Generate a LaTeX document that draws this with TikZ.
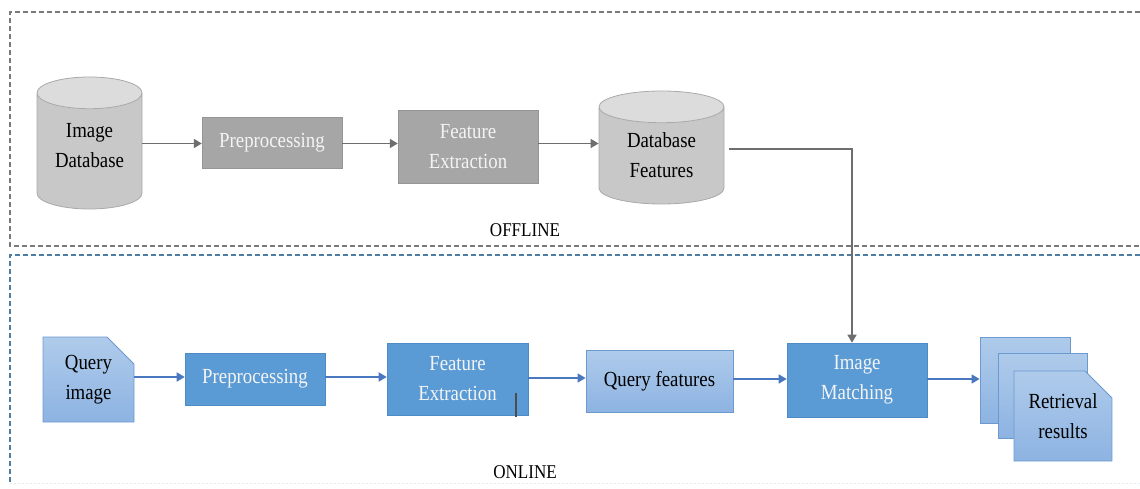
\documentclass[tikz,border=0pt]{standalone}
\usepackage{fontspec}
\newfontfamily\dfont{Liberation Serif}[FakeStretch=0.875]
\usetikzlibrary{shapes.geometric,shapes.misc,arrows.meta}
\definecolor{gbox}{HTML}{A6A6A6}
\definecolor{gcyl}{HTML}{C8C8C8}
\definecolor{gcyltop}{HTML}{DCDCDC}
\definecolor{gcylline}{HTML}{A9A9A9}
\definecolor{garr}{HTML}{6E6E6E}
\definecolor{bbox}{HTML}{5B9BD5}
\definecolor{bboxline}{HTML}{4F8BC4}
\definecolor{lbtop}{HTML}{AFCBEB}
\definecolor{lbbot}{HTML}{8DB3E2}
\definecolor{lbline}{HTML}{6C9AD0}
\definecolor{barr}{HTML}{4A78C0}
\definecolor{offdash}{HTML}{7A7A7A}
\definecolor{ondash}{HTML}{4D7FA6}
\definecolor{txtw}{HTML}{F4F4F4}
\tikzset{
  lbl/.style={font=\dfont\fontsize{21.5}{30}\selectfont, align=center, inner sep=0pt},
  graybox/.style={lbl, rectangle, fill=gbox, draw=gbox!90!black, line width=0.4pt, text=txtw},
  bluebox/.style={lbl, rectangle, fill=bbox, draw=bboxline, line width=0.6pt, text=txtw},
  lightbox/.style={lbl, rectangle, top color=lbtop, bottom color=lbbot, draw=lbline, line width=0.8pt, text=black},
  docbox/.style={lbl, chamfered rectangle, chamfered rectangle corners=north east,
     chamfered rectangle xsep=13pt, chamfered rectangle ysep=14pt,
     top color=lbtop, bottom color=lbbot, draw=lbline, line width=0.8pt, text=black},
  cyl/.style={lbl, cylinder, shape border rotate=90, cylinder uses custom fill,
     cylinder body fill=gcyl, cylinder end fill=gcyltop, draw=gcylline, line width=0.8pt, text=black,
     anchor=shape center},
  garrow/.style={draw=garr, line width=1.6pt, -{Triangle[width=9pt,length=8pt]}},
  barrow/.style={draw=barr, line width=1.6pt, -{Triangle[width=9pt,length=8pt]}},
  region/.style={line width=1.3pt, dash pattern=on 5pt off 3pt},
  tag/.style={font=\dfont\fontsize{19.5}{24}\selectfont, inner sep=0pt, text=black}
}
\begin{document}
\begin{tikzpicture}[x=1pt,y=-1pt]
\useasboundingbox (0,0) rectangle (1140,489);
% regions
\draw[region, draw=offdash] (1140,12) -- (10,12) -- (10,246) -- (1140,246);
\draw[region, draw=ondash] (1140,255) -- (10,255) -- (10,483);
\draw[line width=1pt, draw=ondash!15, dash pattern=on 2pt off 2pt] (10,483) -- (1140,483);
% offline
\node[cyl, aspect=0.46, minimum width=105, minimum height=132] (idb) at (89.5,143) {\raisebox{5pt}[\height][\depth]{\begin{tabular}{@{}c@{}}Image\\Database\end{tabular}}};
\node[graybox, minimum width=140, minimum height=51] (pre1) at (272,142.5) {Preprocessing};
\node[graybox, minimum width=140, minimum height=73] (fe1) at (468,146.5) {Feature\\Extraction};
\node[cyl, aspect=0.46, minimum width=125, minimum height=113] (dbf) at (661.5,147.5) {Database\\Features};
\node[tag] (off) at (525,230) {OFFLINE};
% online
\node[docbox, minimum width=91, minimum height=85] (qi) at (88.5,379.5) {Query\\image};
\node[bluebox, minimum width=140, minimum height=52] (pre2) at (255,379) {Preprocessing};
\node[bluebox, minimum width=141, minimum height=72] (fe2) at (457.5,379) {Feature\\Extraction};
\node[lightbox, minimum width=147, minimum height=62] (qf) at (659.5,381) {Query features};
\node[bluebox, minimum width=140, minimum height=74] (im) at (857,380) {Image\\Matching};
\node[docbox, minimum width=90, minimum height=86] (rr1) at (1025,380) {};
\node[docbox, minimum width=89, minimum height=85] (rr2) at (1042.5,395.5) {};
\node[docbox, minimum width=98, minimum height=90] (rr3) at (1063,416) {Retrieval\\results};
\node[tag] (on) at (525,472) {ONLINE};
\draw[draw=black!70, line width=1.4pt] (516,393) -- (516,417);
% connectors
\draw[garrow] (idb.east |- 0,143.5) -- (pre1.west |- 0,143.5);
\draw[garrow] (pre1.east |- 0,143.5) -- (fe1.west |- 0,143.5);
\draw[garrow] (fe1.east |- 0,143.5) -- (dbf.west |- 0,143.5);
\draw[garrow] ([xshift=5pt,yshift=6.5pt]dbf.east) -| ([xshift=-5pt]im.north);
\draw[barrow] (qi.east |- 0,377) -- (pre2.west |- 0,377);
\draw[barrow] (pre2.east |- 0,377) -- (fe2.west |- 0,377);
\draw[barrow] (fe2.east |- 0,378) -- (qf.west |- 0,378);
\draw[barrow] (qf.east |- 0,379) -- (im.west |- 0,379);
\draw[barrow] (im.east |- 0,379) -- (rr1.west |- 0,379);
\end{tikzpicture}
\end{document}
